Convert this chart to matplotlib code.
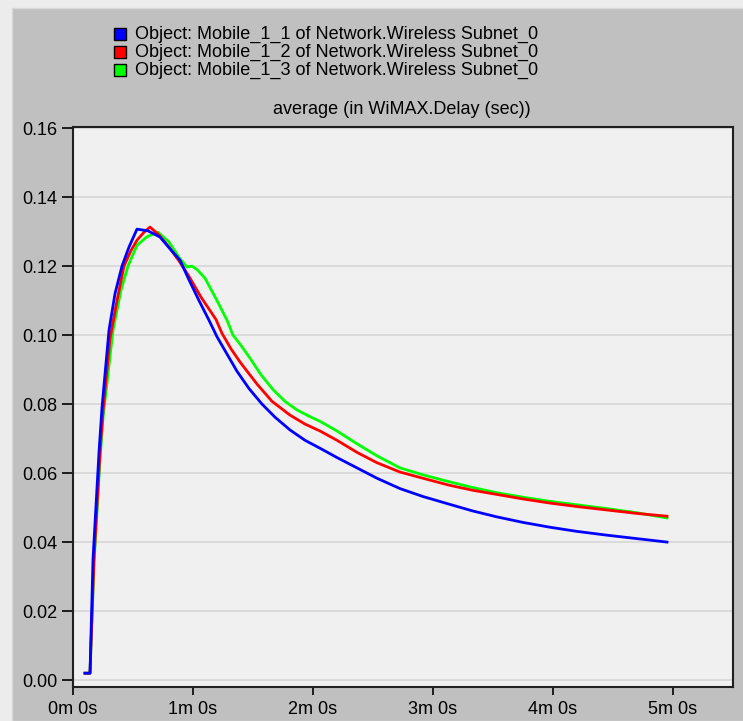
import matplotlib
matplotlib.use("Agg")
import matplotlib.pyplot as plt
from matplotlib.patches import Rectangle
from matplotlib.ticker import FuncFormatter, MultipleLocator

# time in seconds, delay in seconds
t_blue = [6, 8.5, 10, 13, 14.5, 18, 21, 24.5, 28, 32, 37.5, 43.5, 48.5, 53.5, 58, 63,
          68, 72, 77, 82, 88, 94.5, 101, 108.5, 116, 123.5, 132, 142, 152, 163.5, 175,
          188, 200, 212, 225, 238.5, 252, 267, 282, 297]
v_blue = [0.002, 0.002, 0.035, 0.066, 0.079, 0.1014, 0.112, 0.120, 0.1255, 0.1307, 0.1302,
          0.1284, 0.125, 0.1217, 0.116, 0.110, 0.1043, 0.0995, 0.0945, 0.0895, 0.0845,
          0.080, 0.0762, 0.0725, 0.0695, 0.0672, 0.0645, 0.0615, 0.0585, 0.0555, 0.0532,
          0.0510, 0.0490, 0.0473, 0.0457, 0.0443, 0.0431, 0.0420, 0.0410, 0.0400]

t_red = [6, 8.5, 10.5, 13.5, 15, 18.5, 22, 25.5, 29, 32, 35.5, 38.5, 43, 48, 53, 58, 64,
         71.5, 74.5, 79, 83.5, 88, 92, 99.5, 108.5, 116, 123.5, 132, 142, 152, 163.5,
         175, 188, 200, 212, 225, 238.5, 252, 267, 282, 297]
v_red = [0.002, 0.002, 0.035, 0.066, 0.078, 0.099, 0.110, 0.120, 0.1245, 0.1275, 0.1298,
         0.1313, 0.129, 0.1255, 0.1215, 0.117, 0.111, 0.1045, 0.1005, 0.096, 0.0922,
         0.0888, 0.0858, 0.0808, 0.0768, 0.0742, 0.0722, 0.0695, 0.066, 0.063, 0.0603,
         0.0585, 0.0565, 0.055, 0.0538, 0.0525, 0.0513, 0.0503, 0.0493, 0.0483, 0.0475]

t_green = [6, 8.5, 10.5, 13.5, 15, 20, 24, 27.5, 32, 37, 42.5, 48, 53, 57, 59.5, 62, 66,
           72, 77, 80, 84, 88.5, 94, 100, 106, 112, 118, 123.5, 132, 142, 152, 163.5, 175,
           188, 200, 212, 225, 238.5, 252, 267, 282, 297]
v_green = [0.002, 0.002, 0.034, 0.064, 0.076, 0.1014, 0.113, 0.120, 0.126, 0.1285, 0.1298,
           0.127, 0.1225, 0.1197, 0.120, 0.119, 0.1165, 0.110, 0.1043, 0.100, 0.097,
           0.0933, 0.0885, 0.0842, 0.0808, 0.0783, 0.0765, 0.0750, 0.0722, 0.0685, 0.065,
           0.0615, 0.0595, 0.0575, 0.0558, 0.0543, 0.0530, 0.0518, 0.0508, 0.0497,
           0.0485, 0.047]

labels = ["Object: Mobile_1_1 of Network.Wireless Subnet_0",
          "Object: Mobile_1_2 of Network.Wireless Subnet_0",
          "Object: Mobile_1_3 of Network.Wireless Subnet_0"]
colors = ["#0000ff", "#ff0000", "#00ff00"]
title = "average (in WiMAX.Delay (sec))"

plt.rcParams['font.family'] = ['Liberation Sans', 'DejaVu Sans']

W, H = 743, 721
fig = plt.figure(figsize=(W / 100, H / 100), dpi=100, facecolor="#ececec")
# gray panel behind everything
fig.patches.append(Rectangle((12 / W, 0), 1, 1 - 8 / H, transform=fig.transFigure,
                             facecolor="#c0c0c0", edgecolor="#d8d8d8", lw=1, zorder=-5))

ax = fig.add_axes([73 / W, 1 - 687 / H, (733 - 73) / W, (687 - 127) / H])
ax.set_facecolor("#f0f0f0")

ax.plot(t_green, v_green, color=colors[2], lw=2.0)
ax.plot(t_red, v_red, color=colors[1], lw=2.0)
ax.plot(t_blue, v_blue, color=colors[0], lw=2.0)

ax.set_xlim(0, 330)
ax.set_ylim(-0.002, 0.1603)
ax.xaxis.set_major_locator(MultipleLocator(60))
ax.yaxis.set_major_locator(MultipleLocator(0.02))
ax.xaxis.set_major_formatter(FuncFormatter(lambda x, p: "%dm %ds" % (int(x) // 60, int(x) % 60)))
ax.yaxis.set_major_formatter(FuncFormatter(lambda y, p: "%.2f" % y))
ax.grid(axis="y", color="#d6d6d6", lw=1.2)
ax.set_axisbelow(True)
ax.tick_params(axis="both", labelsize=13, colors="black", width=1.2)
ax.tick_params(axis="y", length=8, pad=3)
ax.tick_params(axis="x", length=6, pad=4)
for s in ax.spines.values():
    s.set_linewidth(1.5)
    s.set_color("#202020")

# legend as colored boxes + text
for i, (lab, c) in enumerate(zip(labels, colors)):
    y = 1 - (34 + 18 * i) / H
    fig.patches.append(Rectangle((114 / W, y - 6 / H), 12 / W, 12 / H, transform=fig.transFigure,
                                 facecolor=c, edgecolor="black", lw=1))
    fig.text(135 / W, y, lab, fontsize=13, va="center", ha="left")

fig.text(402 / W, 1 - 110 / H, title, fontsize=13, ha="center", va="center")

fig.savefig("out.png", dpi=100, facecolor=fig.get_facecolor())
